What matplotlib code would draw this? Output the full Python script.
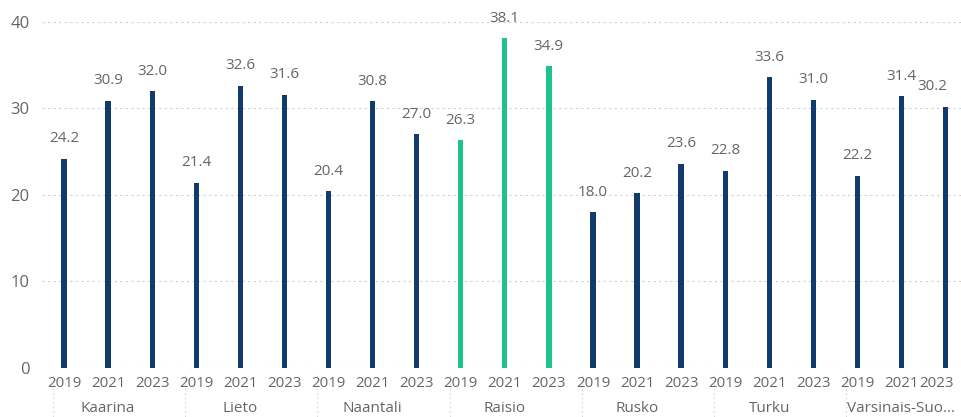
import numpy as np
import matplotlib.pyplot as plt
from matplotlib.transforms import blended_transform_factory

plt.rcParams['font.family'] = ['Open Sans', 'DejaVu Sans']

regions = ["Kaarina", "Lieto", "Naantali", "Raisio", "Rusko", "Turku", "Varsinais-Suo..."]
years = ["2019", "2021", "2023"]
values = [
    [24.2, 30.9, 32.0],
    [21.4, 32.6, 31.6],
    [20.4, 30.8, 27.0],
    [26.3, 38.1, 34.9],
    [18.0, 20.2, 23.6],
    [22.8, 33.6, 31.0],
    [22.2, 31.4, 30.2],
]
highlight = "Raisio"

navy = "#123b6d"
green = "#1fc28c"
grey = "#666666"

fig = plt.figure(figsize=(9.61, 4.17), dpi=100)
ax = fig.add_axes([0.0437, 0.1175, 0.9563, 0.83])

n = len(years)
last = len(regions) * n - 1
x = 0
for reg, vals in zip(regions, values):
    col = green if reg == highlight else navy
    for yr, v in zip(years, vals):
        ax.bar(x, v, width=0.12, color=col, zorder=3)
        # keep the rightmost label inside the figure
        lx = x - 0.3 if x == last else x
        ax.annotate(f"{v:.1f}", (lx, v), xytext=(0, 9), textcoords="offset points",
                    ha="center", va="bottom", fontsize=11, color=grey)
        x += 1

ax.set_xlim(-0.5, 20.35)
ax.set_ylim(0, 40)
ax.set_yticks([0, 10, 20, 30, 40])
ax.tick_params(axis='y', length=0, pad=9, labelsize=12, labelcolor=grey)
ax.set_xticks([])
ax.grid(axis='y', linestyle=(0, (2, 3)), color="#d0d0d0", linewidth=0.8, zorder=0)
for s in ax.spines.values():
    s.set_visible(False)

trans = blended_transform_factory(ax.transData, ax.transAxes)
for i in range(len(regions) * n):
    tx = i - 0.2 if i == last else i
    ax.text(tx, -0.022, years[i % n], transform=trans, ha="center", va="top",
            fontsize=10.8, color=grey)
for g, reg in enumerate(regions):
    ax.text(g * n + 1, -0.095, reg, transform=trans, ha="center", va="top",
            fontsize=11, color=grey)
for g in range(len(regions)):
    xs = g * n - 0.25
    ax.plot([xs, xs], [-0.02, -0.16], transform=trans, clip_on=False,
            color="#d8d8d8", linestyle=(0, (1.5, 2.5)), linewidth=0.8)

fig.savefig("out.png", dpi=100)
